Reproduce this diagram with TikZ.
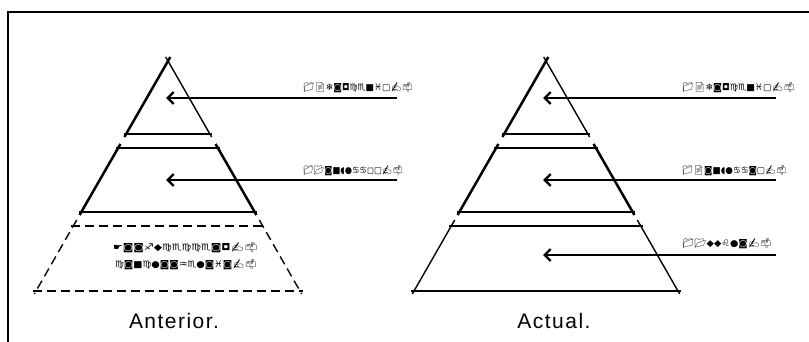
\documentclass[tikz,border=0pt]{standalone}
\usepackage{fontspec}
\setmainfont{Liberation Sans}
\newfontfamily\emo{Noto Emoji}
\newfontfamily\symf{DejaVu Sans}[BoldFont={DejaVu Sans Bold}]
\newfontfamily\capfont[LetterSpace=7]{Liberation Sans}
\usetikzlibrary{arrows.meta}
\newcommand\glyphbox[3]{\resizebox*{#1}{#2}{#3}}
\begin{document}
\begin{tikzpicture}[x=1pt,y=-1pt,
  thinline/.style={line width=1.4pt},
  thickline/.style={line width=2.5pt},
  dashline/.style={line width=1.4pt,dash pattern=on 9pt off 5pt},
  ptr/.style={line width=1.5pt,-{Straight Barb[length=6pt,width=12pt,line width=2.4pt]}},
  glyphs/.style={inner sep=0pt,anchor=west},
  caption/.style={inner sep=0pt,anchor=base,font=\capfont\fontsize{21}{24}\selectfont}]
\useasboundingbox (0,0) rectangle (809,342);
% frame
\draw[thinline] (8,342) -- (8,12) -- (809,12);

% ---------- left pyramid (Anterior) ----------
\draw[thickline] (170.3,57) -- (124.4,137);
\draw[thinline] (165.7,57) -- (211.6,137);
\draw[thinline] (124,134) -- (212,134);
\draw[thickline] (120.4,144) -- (79.6,215);
\draw[thickline] (215.6,144) -- (256.4,215);
\draw[thinline] (116,148) -- (220,148);
\draw[thinline] (79,212) -- (257,212);
\draw[dashline] (76.7,220) -- (34.3,294);
\draw[dashline] (259.3,220) -- (301.7,294);
\draw[dashline] (71,226) -- (265,226);
\draw[dashline] (33,291) -- (303,291);

% ---------- right pyramid (Actual) ----------
\begin{scope}[xshift=378pt]
\draw[thickline] (170.3,57) -- (124.4,137);
\draw[thinline] (165.7,57) -- (211.6,137);
\draw[thinline] (124,134) -- (212,134);
\draw[thickline] (120.4,144) -- (79.6,215);
\draw[thickline] (215.6,144) -- (256.4,215);
\draw[thinline] (116,148) -- (220,148);
\draw[thinline] (79,212) -- (257,212);
\draw[thinline] (76.7,220) -- (34.3,294);
\draw[thinline] (259.3,220) -- (301.7,294);
\draw[thinline] (71,226) -- (265,226);
\draw[thinline] (33,291) -- (303,291);
\end{scope}

% arrows
\coordinate (la1s) at (397,98);  \coordinate (la1e) at (166,98);
\coordinate (la2s) at (397,180); \coordinate (la2e) at (166,180);
\coordinate (ra1s) at (776,98);  \coordinate (ra1e) at (543,98);
\coordinate (ra2s) at (776,180); \coordinate (ra2e) at (543,180);
\coordinate (ra3s) at (776,255); \coordinate (ra3e) at (543,255);
\draw[ptr] (la1s) -- (la1e);
\draw[ptr] (la2s) -- (la2e);
\draw[ptr] (ra1s) -- (ra1e);
\draw[ptr] (ra2s) -- (ra2e);
\draw[ptr] (ra3s) -- (ra3e);

% garbled labels
\node[glyphs] (lt1) at (303,88) {\glyphbox{110pt}{10pt}{{\emo 📁📄}{\symf\bfseries ❄◙◘♍♏■♓▢}{\emo ✍📫}}};
\node[glyphs] (lt2) at (303,171) {\glyphbox{100pt}{10pt}{{\emo 📁📂}{\symf\bfseries ◙■◖●♋♋◻▢}{\emo ✍📫}}};
\node[glyphs] (rt1) at (682,88) {\glyphbox{113pt}{10pt}{{\emo 📁📄}{\symf\bfseries ❄◙◘♍♏■♓▢}{\emo ✍📫}}};
\node[glyphs] (rt2) at (682,171) {\glyphbox{105pt}{10pt}{{\emo 📁📄}{\symf\bfseries ◙■◖●♋♋◙▢}{\emo ✍📫}}};
\node[glyphs] (rt3) at (682,244) {\glyphbox{90pt}{10pt}{{\emo 📁📂}{\symf\bfseries ◆◆♌●◙}{\emo ✍📫}}};
\node[glyphs] (lb1) at (113,248) {\glyphbox{145pt}{10pt}{{\symf\bfseries ☛◙◙♐◆♍♏♍♍♏◙◘}{\emo ✍📫}}};
\node[glyphs] (lb2) at (115,265) {\glyphbox{142pt}{10pt}{{\symf\bfseries ♍◙■♍●◙◙♒♏●◙♓◙}{\emo ✍📫}}};

% captions
\node[caption] (cant) at (174,328) {Anterior.};
\node[caption] (cact) at (554,328) {Actual.};
\end{tikzpicture}
\end{document}
